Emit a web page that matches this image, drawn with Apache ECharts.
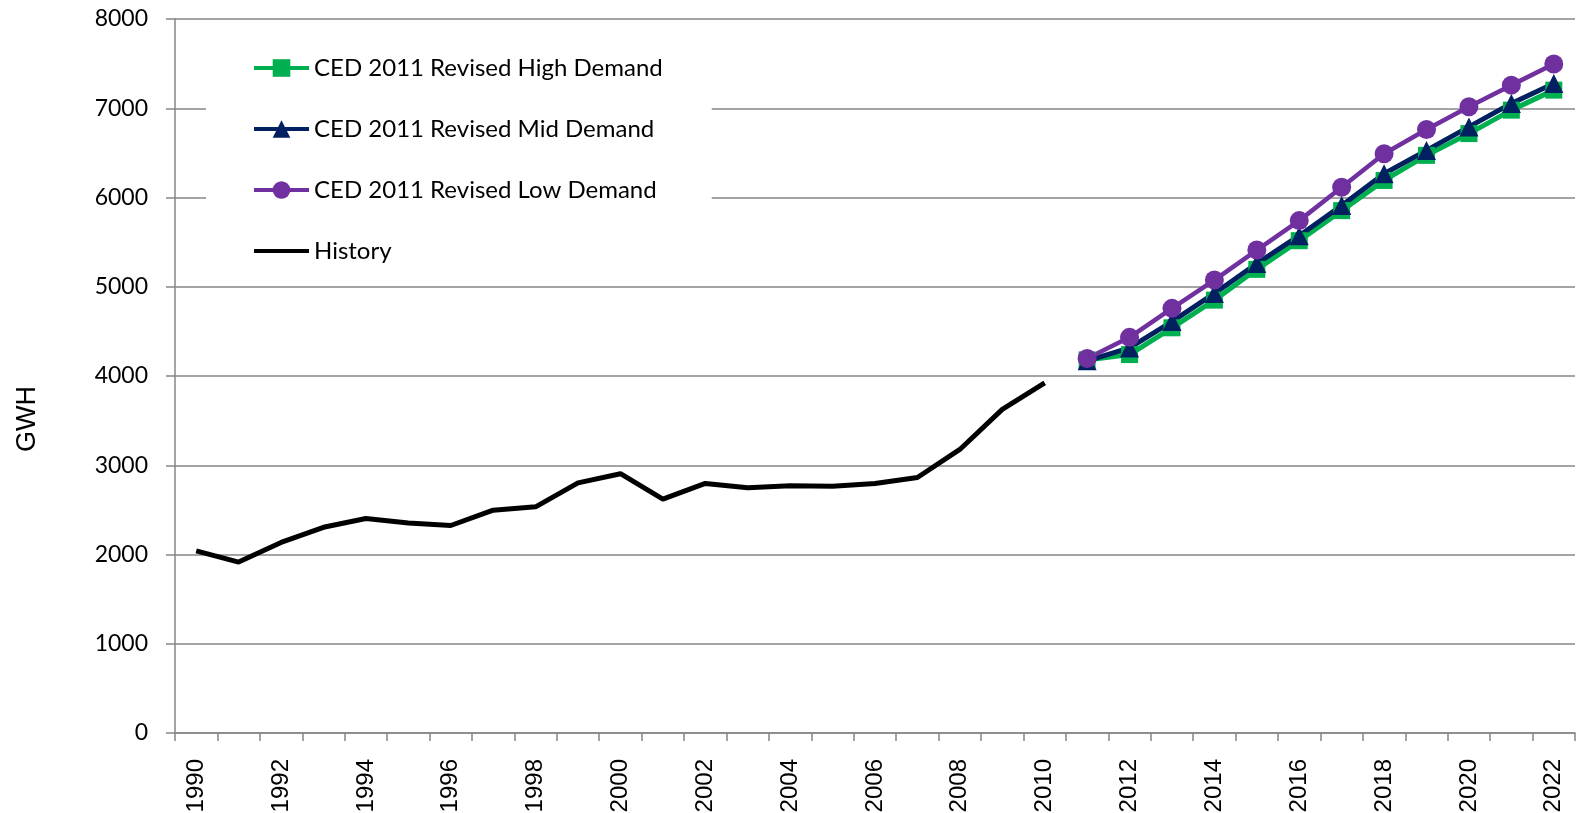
<!DOCTYPE html>
<html>
<head>
<meta charset="utf-8">
<script src="https://cdn.jsdelivr.net/npm/echarts@6/dist/echarts.min.js"></script>
<style>
html,body{margin:0;padding:0;background:#fff;}
#chart{width:1577px;height:813px;}
</style>
</head>
<body>
<div id="chart"></div>
<script>
const years = ['1990','1991','1992','1993','1994','1995','1996','1997','1998','1999','2000','2001','2002','2003','2004','2005','2006','2007','2008','2009','2010','2011','2012','2013','2014','2015','2016','2017','2018','2019','2020','2021','2022'];
const historyVals = [2040,1915,2135,2305,2403,2354,2325,2497,2534,2803,2905,2620,2796,2747,2769,2766,2796,2863,3177,3626,3924];
const highVals = [4180,4240,4540,4850,5195,5516,5853,6191,6472,6716,6979,7203];
const midVals = [4170,4315,4610,4925,5260,5572,5910,6266,6528,6791,7054,7278];
const lowVals = [4197,4433,4758,5075,5411,5741,6115,6491,6761,7016,7259,7495];
const seriesNames = ['CED 2011 Revised High Demand','CED 2011 Revised Mid Demand','CED 2011 Revised Low Demand','History'];
const yTicks = {min:0, max:8000, interval:1000};
const yTitle = 'GWH';

const nHist = historyVals.length;
const pad = (arr) => new Array(nHist).fill(null).concat(arr);
const histData = historyVals.concat(new Array(years.length - nHist).fill(null));

const chart = echarts.init(document.getElementById('chart'), null, {renderer:'canvas'});
const gray = '#868686';
chart.setOption({
  animation:false,
  backgroundColor:'#fff',
  grid:{left:175, right:2, top:19, bottom:80, containLabel:false, outerBoundsMode:'none'},
  graphic:[{
    type:'text', x:28, y:419, rotation:Math.PI/2,
    style:{text:yTitle, fill:'#000', font:'27px "Liberation Sans"', align:'center', verticalAlign:'middle'}
  }],
  xAxis:{
    type:'category', data:years, boundaryGap:true,
    axisLine:{lineStyle:{color:gray, width:1.5}},
    axisTick:{show:true, interval:0, length:8, lineStyle:{color:gray, width:1.5}},
    axisLabel:{interval:1, rotate:90, margin:26, color:'#000', fontFamily:'Liberation Sans', fontSize:24},
    splitLine:{show:false}
  },
  yAxis:{
    type:'value', min:yTicks.min, max:yTicks.max, interval:yTicks.interval,
    axisLine:{show:true, lineStyle:{color:gray, width:1.5}},
    axisTick:{show:true, length:9, lineStyle:{color:gray, width:1.5}},
    axisLabel:{margin:27, color:'#000', fontFamily:'Lato', fontSize:23, formatter:(v)=>String(v)},
    splitLine:{show:true, lineStyle:{color:gray, width:1.5}}
  },
  legend:{
    orient:'vertical', left:206, top:36,
    padding:[20,49,20,46], backgroundColor:'#fff',
    itemWidth:55, itemHeight:22, itemGap:37,
    lineStyle:{width:4},
    textStyle:{color:'#000', fontFamily:'Lato', fontSize:24, lineHeight:24},
    data:[
      {name:seriesNames[0]},
      {name:seriesNames[1]},
      {name:seriesNames[2]},
      {name:seriesNames[3], itemStyle:{opacity:0}}
    ]
  },
  series:[
    {name:seriesNames[0], type:'line', data:pad(highVals), symbol:'rect', symbolSize:17,
     lineStyle:{color:'#00B050', width:5}, itemStyle:{color:'#00B050'}},
    {name:seriesNames[1], type:'line', data:pad(midVals), symbol:'triangle', symbolSize:19,
     lineStyle:{color:'#002060', width:5}, itemStyle:{color:'#002060'}},
    {name:seriesNames[2], type:'line', data:pad(lowVals), symbol:'circle', symbolSize:19,
     lineStyle:{color:'#7030A0', width:4.5}, itemStyle:{color:'#7030A0'}},
    {name:seriesNames[3], type:'line', data:histData, symbol:'none', showSymbol:false,
     lineStyle:{color:'#000', width:5}, itemStyle:{color:'#000'}}
  ]
});
</script>
</body>
</html>
